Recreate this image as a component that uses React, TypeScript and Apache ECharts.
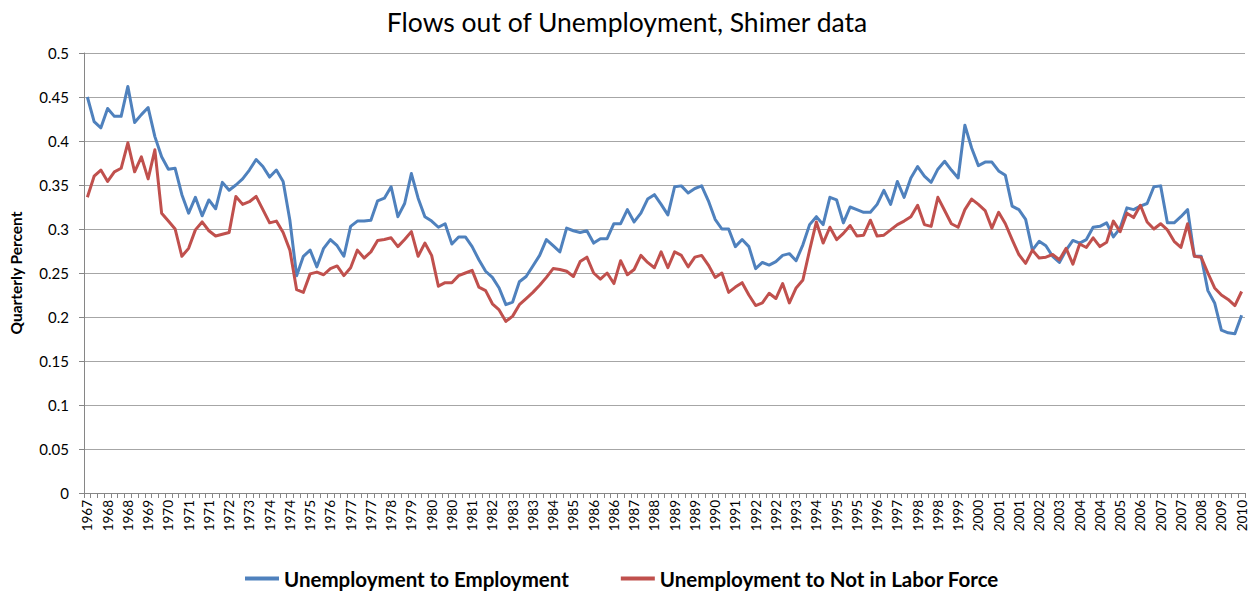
import React, { useEffect, useRef } from "react";
import * as echarts from "echarts";

const startYear = 1967;
const startQuarter = 2;
const quarterCount = 172;

const categories: string[] = [];
for (let i = 0; i < quarterCount; i++) {
  const q = startQuarter - 1 + i;
  categories.push(String(startYear + Math.floor(q / 4)));
}

const yTicks = { min: 0, max: 0.5, interval: 0.05 };

const seriesNames = ["Unemployment to Employment", "Unemployment to Not in Labor Force"];

const uToE: number[] = [
  0.450, 0.422, 0.415, 0.437, 0.428, 0.428, 0.462, 0.421, 0.430, 0.438,
  0.405, 0.382, 0.368, 0.369, 0.339, 0.318, 0.336, 0.315, 0.333, 0.323,
  0.353, 0.344, 0.350, 0.357, 0.367, 0.379, 0.371, 0.359, 0.367, 0.354,
  0.310, 0.247, 0.269, 0.276, 0.257, 0.278, 0.288, 0.281, 0.269, 0.303,
  0.309, 0.309, 0.310, 0.332, 0.335, 0.348, 0.314, 0.329, 0.363, 0.335,
  0.314, 0.309, 0.302, 0.306, 0.283, 0.291, 0.291, 0.280, 0.265, 0.252,
  0.245, 0.233, 0.214, 0.217, 0.240, 0.246, 0.258, 0.270, 0.288, 0.281,
  0.274, 0.301, 0.298, 0.296, 0.298, 0.284, 0.289, 0.289, 0.306, 0.306,
  0.322, 0.308, 0.318, 0.334, 0.339, 0.328, 0.316, 0.348, 0.349, 0.341,
  0.346, 0.349, 0.332, 0.311, 0.300, 0.300, 0.280, 0.288, 0.280, 0.255,
  0.262, 0.259, 0.263, 0.270, 0.272, 0.264, 0.282, 0.305, 0.314, 0.305,
  0.336, 0.333, 0.307, 0.325, 0.322, 0.319, 0.319, 0.328, 0.344, 0.328,
  0.354, 0.336, 0.358, 0.371, 0.360, 0.353, 0.368, 0.377, 0.367, 0.358,
  0.418, 0.392, 0.372, 0.376, 0.376, 0.366, 0.361, 0.326, 0.322, 0.311,
  0.276, 0.286, 0.281, 0.269, 0.262, 0.276, 0.287, 0.284, 0.288, 0.302,
  0.303, 0.307, 0.291, 0.301, 0.324, 0.322, 0.326, 0.329, 0.348, 0.349,
  0.307, 0.307, 0.314, 0.322, 0.269, 0.269, 0.230, 0.216, 0.185, 0.182,
  0.181, 0.202,
];

const uToN: number[] = [
  0.336, 0.360, 0.367, 0.354, 0.365, 0.369, 0.398, 0.365, 0.382, 0.357,
  0.390, 0.318, 0.309, 0.300, 0.269, 0.278, 0.299, 0.308, 0.298, 0.292,
  0.294, 0.296, 0.337, 0.328, 0.331, 0.337, 0.322, 0.307, 0.309, 0.296,
  0.276, 0.231, 0.228, 0.249, 0.251, 0.248, 0.255, 0.258, 0.247, 0.256,
  0.276, 0.267, 0.274, 0.287, 0.288, 0.290, 0.280, 0.288, 0.297, 0.269,
  0.284, 0.270, 0.235, 0.239, 0.239, 0.247, 0.250, 0.253, 0.234, 0.230,
  0.215, 0.208, 0.195, 0.201, 0.214, 0.221, 0.228, 0.236, 0.245, 0.255,
  0.254, 0.252, 0.246, 0.263, 0.268, 0.250, 0.243, 0.250, 0.238, 0.264,
  0.248, 0.254, 0.270, 0.262, 0.256, 0.274, 0.256, 0.274, 0.270, 0.257,
  0.268, 0.270, 0.259, 0.245, 0.250, 0.228, 0.234, 0.239, 0.225, 0.213,
  0.216, 0.227, 0.221, 0.238, 0.216, 0.233, 0.242, 0.276, 0.308, 0.284,
  0.302, 0.288, 0.295, 0.304, 0.292, 0.293, 0.310, 0.292, 0.293, 0.299,
  0.305, 0.309, 0.314, 0.327, 0.305, 0.303, 0.336, 0.321, 0.306, 0.302,
  0.322, 0.334, 0.328, 0.321, 0.301, 0.319, 0.306, 0.288, 0.271, 0.261,
  0.276, 0.267, 0.268, 0.271, 0.265, 0.278, 0.260, 0.283, 0.279, 0.290,
  0.280, 0.285, 0.309, 0.297, 0.318, 0.313, 0.327, 0.308, 0.300, 0.306,
  0.299, 0.286, 0.279, 0.306, 0.269, 0.268, 0.250, 0.233, 0.225, 0.220,
  0.213, 0.229,
];

const colors = ["#4F81BD", "#C0504D"];
const FONT = "Lato, 'Liberation Sans', sans-serif";

export default function App() {
  const ref = useRef<HTMLDivElement>(null);
  useEffect(() => {
    if (!ref.current) return;
    const chart = echarts.init(ref.current, null, { renderer: "svg" });
    chart.setOption({
      animation: false,
      backgroundColor: "#ffffff",
      textStyle: { fontFamily: FONT },
      title: {
        text: "Flows out of Unemployment, Shimer data",
        left: "center",
        top: 3,
        textStyle: { fontFamily: FONT, fontSize: 26.5, fontWeight: "normal", color: "#000000" },
      },
      legend: {
        left: 240,
        top: 563,
        itemWidth: 34,
        itemHeight: 4,
        itemGap: 52,
        icon: "rect",
        data: seriesNames,
        textStyle: { fontFamily: FONT, fontSize: 20.5, fontWeight: "bold", color: "#000000" },
      },
      grid: { left: 79, right: 9, top: 53, bottom: 101, containLabel: false },
      xAxis: {
        type: "category",
        data: categories,
        boundaryGap: true,
        axisLine: { show: true, lineStyle: { color: "#868686", width: 1 } },
        axisTick: { show: true, interval: 0, length: 5, alignWithLabel: false, lineStyle: { color: "#868686" } },
        axisLabel: { interval: 2, rotate: 90, fontSize: 13.5, margin: 7, color: "#000000", fontFamily: FONT },
        splitLine: { show: false },
      },
      yAxis: {
        type: "value",
        min: yTicks.min,
        max: yTicks.max,
        interval: yTicks.interval,
        name: "Quarterly Percent",
        nameLocation: "middle",
        nameGap: 60,
        nameTextStyle: { fontFamily: FONT, fontSize: 15.5, fontWeight: "bold", color: "#000000" },
        axisLine: { show: true, lineStyle: { color: "#868686", width: 1 } },
        axisTick: { show: true, length: 5, lineStyle: { color: "#868686" } },
        axisLabel: {
          fontSize: 15,
          margin: 15,
          color: "#000000",
          fontFamily: FONT,
          formatter: (v: number) => String(Number(v.toFixed(2))),
        },
        splitLine: { show: true, lineStyle: { color: "#a6a6a6", width: 1 } },
      },
      series: [
        {
          name: seriesNames[0],
          type: "line",
          data: uToE,
          showSymbol: false,
          symbol: "none",
          lineStyle: { color: colors[0], width: 3, join: "round" },
          itemStyle: { color: colors[0] },
        },
        {
          name: seriesNames[1],
          type: "line",
          data: uToN,
          showSymbol: false,
          symbol: "none",
          lineStyle: { color: colors[1], width: 3, join: "round" },
          itemStyle: { color: colors[1] },
        },
      ],
    });
    return () => chart.dispose();
  }, []);
  return (
    <div
      ref={ref}
      style={{ position: "absolute", left: 0, top: 0, width: 1254, height: 594, background: "#fff" }}
    />
  );
}
